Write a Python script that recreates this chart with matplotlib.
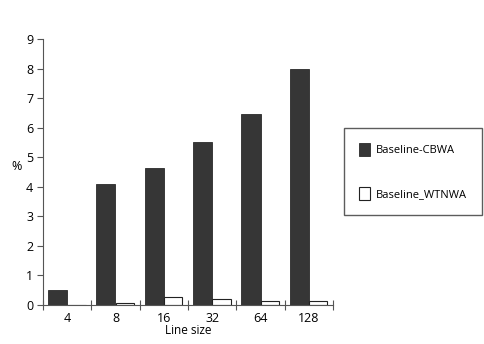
import numpy as np
import matplotlib
matplotlib.use("Agg")
import matplotlib.pyplot as plt

line_sizes = ["4", "8", "16", "32", "64", "128"]
cbwa = [0.5, 4.1, 4.65, 5.5, 6.45, 8.0]
wtnwa = [0.0, 0.08, 0.27, 0.2, 0.15, 0.13]

plt.rcParams["font.family"] = ["Open Sans", "DejaVu Sans"]

fig = plt.figure(figsize=(4.84, 3.44), dpi=100)
ax = fig.add_axes([43 / 484, 1 - 305 / 344, 290 / 484, 266 / 344])

x = np.arange(len(line_sizes))
ax.bar(x + 0.1, cbwa, width=0.4, align="edge", color="#363636",
       edgecolor="#2a2a2a", linewidth=0.6, label="Baseline-CBWA")
ax.bar(x + 0.5, wtnwa, width=0.38, align="edge", color="white",
       edgecolor="#222222", linewidth=0.8, label="Baseline_WTNWA")

ax.set_xlim(0, len(line_sizes))
ax.set_ylim(0, 9)
ax.set_yticks(range(10))
ax.tick_params(axis="y", direction="out", length=4, width=0.8, color="#555555",
               labelsize=9, pad=3)
ax.set_xticks(np.arange(len(line_sizes) + 1))
ax.set_xticklabels([])
ax.set_xticks(x + 0.5, minor=True)
ax.set_xticklabels(line_sizes, minor=True)
ax.tick_params(axis="x", which="major", direction="inout", length=7, width=0.8,
               color="#555555")
ax.tick_params(axis="x", which="minor", length=0, labelsize=9, pad=5)

for side in ["top", "right"]:
    ax.spines[side].set_visible(False)
for side in ["left", "bottom"]:
    ax.spines[side].set_color("#555555")
    ax.spines[side].set_linewidth(0.8)

ax.set_ylabel("%", rotation=0, fontsize=9, va="center")
ax.yaxis.set_label_coords(-0.09, 0.52)
ax.set_xlabel("Line size", fontsize=8.5, labelpad=-1)

fig.legend(loc="upper left", bbox_to_anchor=(344 / 484, 1 - 128 / 344),
           fontsize=8, frameon=True, fancybox=False, edgecolor="#333333",
           borderpad=1.35, labelspacing=2.8, handlelength=1.0, handleheight=1.4,
           handletextpad=0.5, borderaxespad=0)

fig.savefig("out.png", dpi=100)
